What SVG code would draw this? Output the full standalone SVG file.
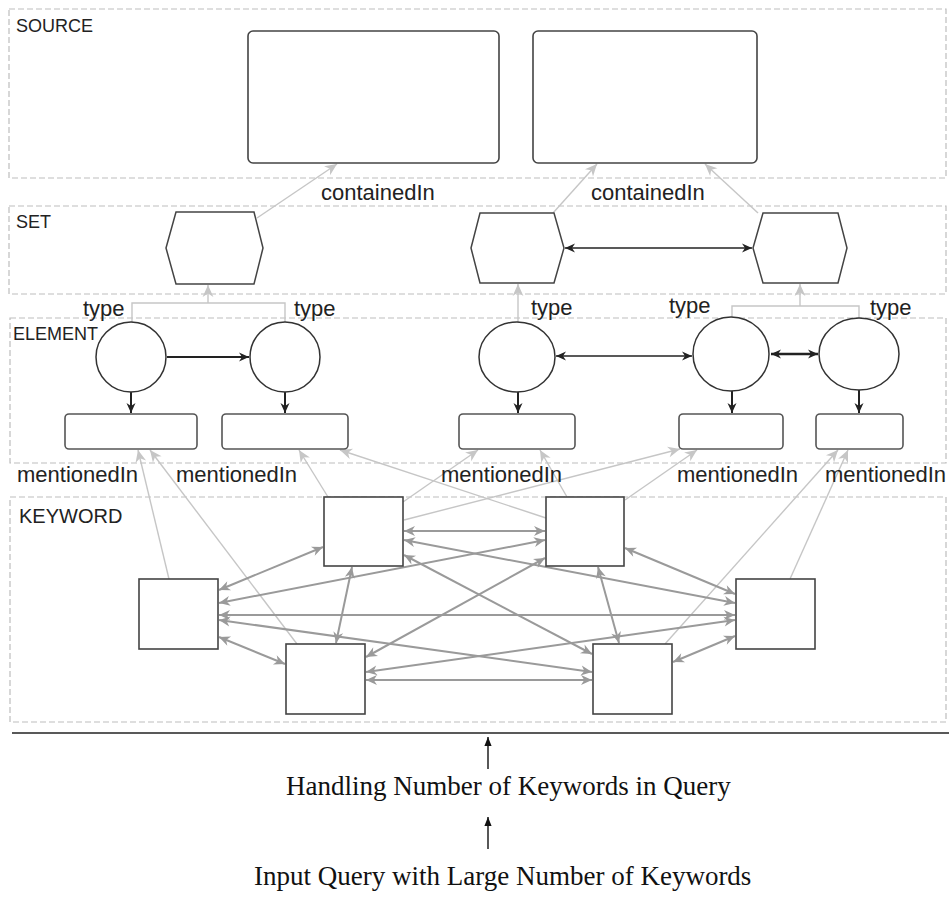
<svg xmlns="http://www.w3.org/2000/svg" width="949" height="911" viewBox="0 0 949 911">
<defs>
<style>
.layer{fill:none;stroke:#bdbdbd;stroke-width:1.2;stroke-dasharray:6 3}
.lbl{font-family:"Liberation Sans",Arial,sans-serif;fill:#222}
.lay{font-size:18px}
.rel{font-size:22px}
.src{fill:#fff;stroke:#444;stroke-width:1.6}
.hex{fill:#fff;stroke:#444;stroke-width:1.5}
.circ{fill:#fff;stroke:#333;stroke-width:1.5}
.erect{fill:#fff;stroke:#555;stroke-width:1.6}
.kw{fill:#fff;stroke:#444;stroke-width:1.6}
.light{fill:none;stroke:#c6c6c6;stroke-width:1.4}
.lighta{fill:none;stroke:#c6c6c6;stroke-width:1.4;marker-end:url(#mLight)}
.kedge{fill:none;stroke:#9a9a9a;stroke-width:2;marker-start:url(#mGray);marker-end:url(#mGray)}
.blk{fill:none;stroke:#222;stroke-width:2;marker-end:url(#mBlack)}
.blk2{fill:none;stroke:#222;stroke-width:1.5;marker-start:url(#mBlack);marker-end:url(#mBlack)}
.blk3{fill:none;stroke:#222;stroke-width:2.4;marker-start:url(#mBlack);marker-end:url(#mBlack)}
.serif{font-family:"Liberation Serif","Times New Roman",serif;font-size:27px;fill:#111}
</style>
<marker id="mGray" viewBox="0 0 10 10" refX="10" refY="5" markerUnits="userSpaceOnUse" markerWidth="14" markerHeight="11" orient="auto-start-reverse">
<path d="M0,0.5 L10,5 L0,9.5 L3,5 z" fill="#9a9a9a"/>
</marker>
<marker id="mLight" viewBox="0 0 10 10" refX="10" refY="5" markerUnits="userSpaceOnUse" markerWidth="13" markerHeight="12" orient="auto-start-reverse">
<path d="M0,0.5 L10,5 L0,9.5 L3,5 z" fill="#c6c6c6"/>
</marker>
<marker id="mBlack" viewBox="0 0 10 10" refX="10" refY="5" markerUnits="userSpaceOnUse" markerWidth="12" markerHeight="10" orient="auto-start-reverse">
<path d="M0,0.5 L10,5 L0,9.5 L3,5 z" fill="#222"/>
</marker>
<marker id="mThin" viewBox="0 0 10 10" refX="10" refY="5" markerUnits="userSpaceOnUse" markerWidth="11" markerHeight="9" orient="auto-start-reverse">
<path d="M0,1 L10,5 L0,9 z" fill="#111"/>
</marker>
</defs>
<rect width="949" height="911" fill="#fff"/>

<g id="layers">
<rect class="layer" x="9" y="9" width="937" height="169"/>
<rect class="layer" x="9" y="206" width="937" height="88"/>
<rect class="layer" x="10" y="318" width="936" height="145"/>
<rect class="layer" x="10" y="497" width="936" height="225"/>
<text class="lbl lay" x="16" y="32">SOURCE</text>
<text class="lbl lay" x="16" y="228">SET</text>
<text class="lbl lay" x="13" y="340">ELEMENT</text>
<text class="lbl" style="font-size:20px" x="19" y="523">KEYWORD</text>
</g>

<g id="connectors">
<line class="lighta" x1="257" y1="218" x2="337" y2="164"/>
<line class="lighta" x1="553" y1="213" x2="597" y2="164"/>
<line class="lighta" x1="758" y1="213" x2="705" y2="164"/>
<polyline class="light" points="132,322 132,303 285,303 285,322"/>
<line class="lighta" x1="208" y1="303" x2="208" y2="285"/>
<line class="lighta" x1="518" y1="322" x2="518" y2="284"/>
<polyline class="light" points="732,317 732,306 859,306 859,318"/>
<line class="lighta" x1="800" y1="306" x2="800" y2="284"/>
<line class="blk2" x1="565" y1="248" x2="752" y2="248"/>
<line class="blk" x1="167" y1="357" x2="249" y2="357"/>
<line class="blk2" x1="556" y1="356" x2="692" y2="356"/>
<line class="blk3" x1="771" y1="354" x2="818" y2="354"/>
<line class="blk" x1="131" y1="392" x2="131" y2="413"/>
<line class="blk" x1="285" y1="392" x2="285" y2="413"/>
<line class="blk" x1="518" y1="392" x2="518" y2="413"/>
<line class="blk" x1="732" y1="391" x2="732" y2="413"/>
<line class="blk" x1="859" y1="390" x2="859" y2="413"/>
<line class="lighta" x1="169" y1="579" x2="138" y2="450"/>
<line class="lighta" x1="297" y1="644" x2="150" y2="450"/>
<line class="lighta" x1="328" y1="497" x2="299" y2="450"/>
<line class="lighta" x1="546" y1="518" x2="340" y2="450"/>
<line class="lighta" x1="403" y1="502" x2="478" y2="450"/>
<line class="lighta" x1="567" y1="497" x2="540" y2="450"/>
<line class="lighta" x1="404" y1="520" x2="680" y2="449"/>
<line class="lighta" x1="625" y1="500" x2="697" y2="450"/>
<line class="lighta" x1="665" y1="644" x2="838" y2="450"/>
<line class="lighta" x1="790" y1="579" x2="848" y2="450"/>
<line class="kedge" x1="404" y1="531" x2="545" y2="531"/>
<line class="kedge" x1="323" y1="547" x2="219" y2="590"/>
<line class="kedge" x1="404" y1="540" x2="735" y2="603"/>
<line class="kedge" x1="352" y1="567" x2="336" y2="643"/>
<line class="kedge" x1="404" y1="555" x2="592" y2="654"/>
<line class="kedge" x1="545" y1="540" x2="219" y2="603"/>
<line class="kedge" x1="625" y1="548" x2="735" y2="594"/>
<line class="kedge" x1="545" y1="558" x2="366" y2="657"/>
<line class="kedge" x1="598" y1="567" x2="619" y2="643"/>
<line class="kedge" x1="219" y1="615" x2="735" y2="615"/>
<line class="kedge" x1="219" y1="637" x2="285" y2="664"/>
<line class="kedge" x1="219" y1="620" x2="592" y2="672"/>
<line class="kedge" x1="735" y1="620" x2="366" y2="672"/>
<line class="kedge" x1="735" y1="636" x2="673" y2="662"/>
<line class="kedge" x1="366" y1="680" x2="592" y2="680"/>
<line x1="12" y1="733" x2="949" y2="733" stroke="#222" stroke-width="1.6"/>
<line x1="488" y1="769" x2="488" y2="737" stroke="#111" stroke-width="1.4" marker-end="url(#mThin)"/>
<line x1="488" y1="849" x2="488" y2="817" stroke="#111" stroke-width="1.4" marker-end="url(#mThin)"/>
</g>

<g id="source1"><rect class="src" x="248" y="31" width="251" height="132" rx="5"/></g>
<g id="source2"><rect class="src" x="533" y="31" width="224" height="132" rx="5"/></g>

<g id="set1"><polygon class="hex" points="176,212 254,212 263,248 254,284 176,284 166,248"/></g>
<g id="set2"><polygon class="hex" points="480,213 554,213 564,248 554,283 480,283 471,248"/></g>
<g id="set3"><polygon class="hex" points="763,213 838,213 847,248 838,283 763,283 753,248"/></g>

<g id="element1"><circle class="circ" cx="131" cy="357" r="35"/></g>
<g id="element2"><circle class="circ" cx="285" cy="357" r="35"/></g>
<g id="element3"><ellipse class="circ" cx="517" cy="357" rx="38" ry="35"/></g>
<g id="element4"><ellipse class="circ" cx="731" cy="354" rx="38" ry="37"/></g>
<g id="element5"><ellipse class="circ" cx="859" cy="354" rx="40" ry="36"/></g>

<g id="label1"><rect class="erect" x="65" y="414" width="132" height="35" rx="4"/></g>
<g id="label2"><rect class="erect" x="222" y="414" width="126" height="35" rx="4"/></g>
<g id="label3"><rect class="erect" x="459" y="414" width="116" height="35" rx="4"/></g>
<g id="label4"><rect class="erect" x="679" y="414" width="104" height="35" rx="4"/></g>
<g id="label5"><rect class="erect" x="816" y="414" width="87" height="35" rx="4"/></g>

<g id="keyword1"><rect class="kw" x="324" y="497" width="79" height="69"/></g>
<g id="keyword2"><rect class="kw" x="546" y="497" width="78" height="69"/></g>
<g id="keyword3"><rect class="kw" x="139" y="579" width="79" height="70"/></g>
<g id="keyword4"><rect class="kw" x="736" y="579" width="79" height="70"/></g>
<g id="keyword5"><rect class="kw" x="286" y="644" width="79" height="70"/></g>
<g id="keyword6"><rect class="kw" x="593" y="644" width="79" height="70"/></g>

<g id="relation-labels">
<text class="lbl rel" x="321" y="200">containedIn</text>
<text class="lbl rel" x="591" y="200">containedIn</text>
<text class="lbl rel" x="83" y="316">type</text>
<text class="lbl rel" x="294" y="316">type</text>
<text class="lbl rel" x="531" y="315">type</text>
<text class="lbl rel" x="669" y="313">type</text>
<text class="lbl rel" x="870" y="315">type</text>
<text class="lbl rel" x="17" y="482">mentionedIn</text>
<text class="lbl rel" x="176" y="482">mentionedIn</text>
<text class="lbl rel" x="441" y="482">mentionedIn</text>
<text class="lbl rel" x="677" y="482">mentionedIn</text>
<text class="lbl rel" x="825" y="482">mentionedIn</text>
</g>

<g id="query-steps">
<text class="serif" x="286" y="795">Handling Number of Keywords in Query</text>
<text class="serif" x="254" y="885">Input Query with Large Number of Keywords</text>
</g>
</svg>
